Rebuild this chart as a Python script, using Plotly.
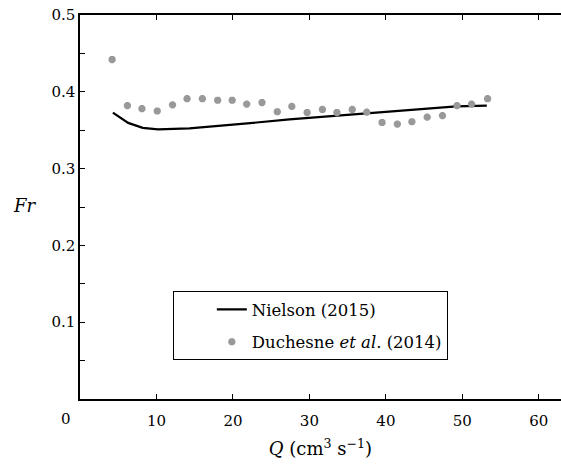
import plotly.graph_objects as go

# Nielson (2015) model curve
nielson_q = [4.3, 6.3, 8.2, 10.2, 14.3, 18.7, 23.1, 27.4, 30.0, 33.1, 37.5, 41.8, 46.2, 49.2, 53.2]
nielson_fr = [0.373, 0.3595, 0.353, 0.351, 0.3525, 0.356, 0.360, 0.364, 0.366, 0.368, 0.372, 0.375, 0.378, 0.381, 0.382]

# Duchesne et al. (2014) experimental points
duch_q = [4.2, 6.2, 8.1, 10.1, 12.1, 14.0, 16.0, 18.0, 19.9, 21.8, 23.8, 25.8, 27.7, 29.7,
          31.7, 33.6, 35.6, 37.5, 39.5, 41.5, 43.4, 45.4, 47.4, 49.3, 51.2, 53.3]
duch_fr = [0.442, 0.382, 0.378, 0.375, 0.383, 0.391, 0.391, 0.389, 0.389, 0.384, 0.386, 0.374, 0.381, 0.373,
           0.377, 0.373, 0.377, 0.3735, 0.360, 0.358, 0.361, 0.367, 0.369, 0.382, 0.384, 0.391]

x_ticks = [10, 20, 30, 40, 50, 60]
y_ticks = [0.1, 0.2, 0.3, 0.4, 0.5]

FONT = "DejaVu Serif"

fig = go.Figure()
fig.add_trace(go.Scatter(
    x=nielson_q, y=nielson_fr, mode="lines", name="Nielson (2015)",
    line=dict(color="black", width=2.2), legendgroup="a",
))
fig.add_trace(go.Scatter(
    x=duch_q, y=duch_fr, mode="markers", name="Duchesne <i>et al</i>. (2014)",
    marker=dict(symbol="asterisk-open", size=6, color="#999999",
                line=dict(color="#999999", width=2.5)),
    legendgroup="b",
))

fig.update_layout(
    width=561, height=468,
    margin=dict(l=80, r=0, t=15, b=69),
    plot_bgcolor="white", paper_bgcolor="white",
    font=dict(family=FONT, size=15, color="black"),
    showlegend=True,
    legend=dict(
        x=0.193, y=0.281, xanchor="left", yanchor="top",
        bordercolor="black", borderwidth=1, bgcolor="white",
        font=dict(family=FONT, size=16.5, color="black"),
        indentation=38,
        tracegroupgap=8,
    ),
)
fig.update_xaxes(
    range=[0, 62.9], tickvals=x_ticks, ticktext=[str(v) for v in x_ticks],
    ticks="inside", ticklen=5, tickwidth=1, tickcolor="black",
    showline=True, linecolor="black", linewidth=1.5, mirror="ticks",
    showgrid=False, zeroline=False, ticklabelstandoff=7,
    tickfont=dict(family=FONT, size=15),
    title=dict(text="<i>Q</i> (cm<sup>3</sup> s<sup>−1</sup>)",
               font=dict(family=FONT, size=18), standoff=14),
)
fig.update_yaxes(
    range=[0, 0.5], tickvals=y_ticks, ticktext=[f"{v:.1f}" for v in y_ticks],
    ticks="inside", ticklen=5, tickwidth=1, tickcolor="black",
    minor=dict(dtick=0.05, tick0=0, ticks="inside", ticklen=5, tickcolor="black", tickwidth=1),
    showline=True, linecolor="black", linewidth=1.5, mirror=False,
    showgrid=False, zeroline=False,
    tickfont=dict(family=FONT, size=15),
)
fig.add_annotation(text="0", x=(66 - 80) / 481, y=(399 - 419) / 384,
                   xref="paper", yref="paper", xanchor="center", yanchor="middle",
                   showarrow=False, font=dict(family=FONT, size=15))
fig.add_annotation(text="<i>Fr</i>", x=(24 - 80) / 481, y=(399 - 205) / 384,
                   xref="paper", yref="paper", xanchor="center", yanchor="middle",
                   showarrow=False, font=dict(family=FONT, size=18))

fig.write_html("out.html")
